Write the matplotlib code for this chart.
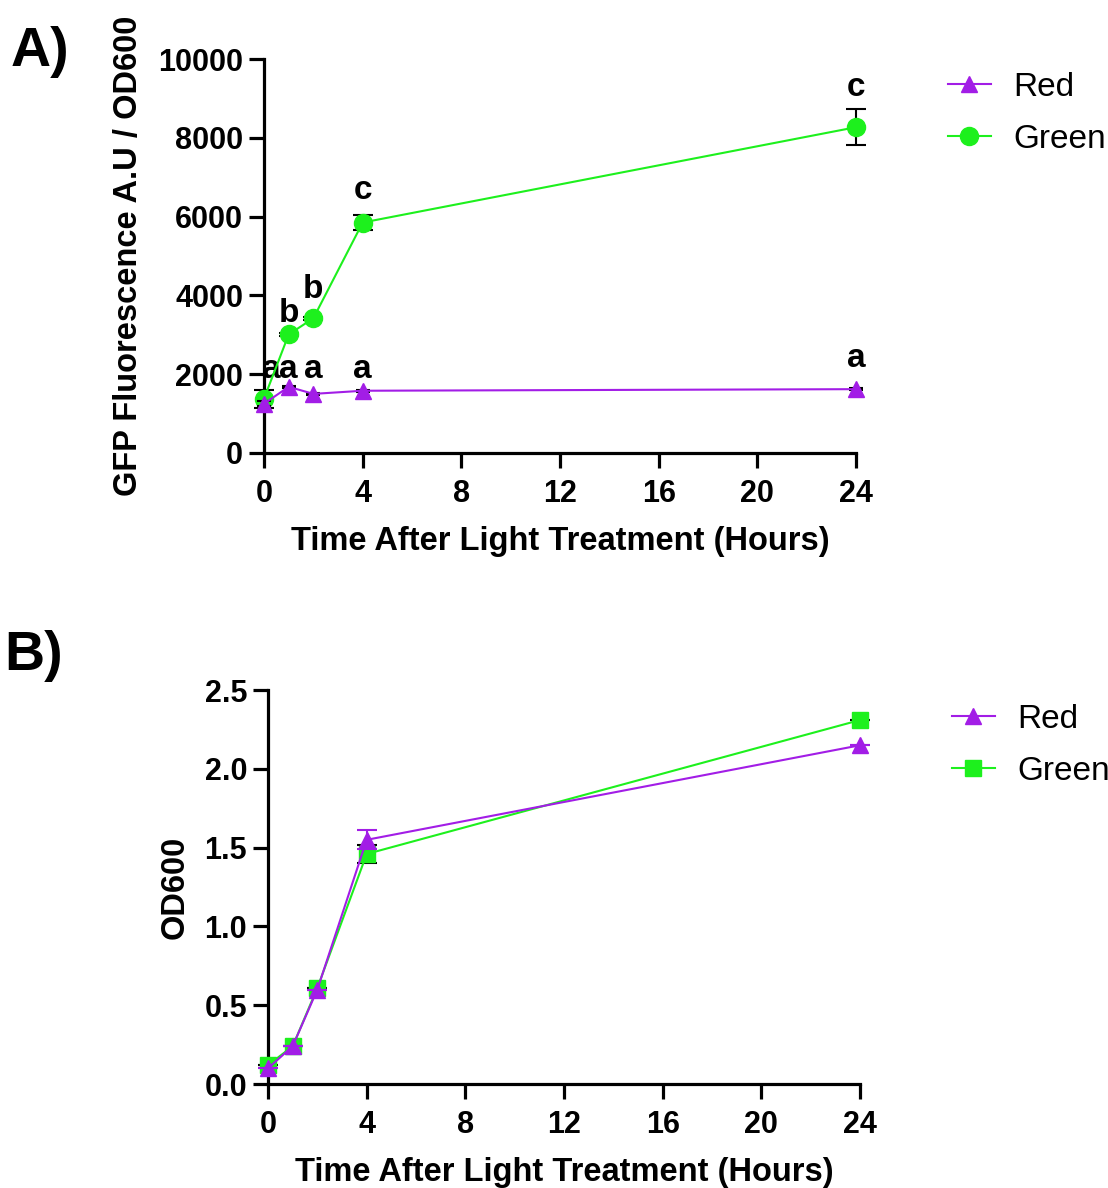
import matplotlib
matplotlib.use("Agg")
import matplotlib.pyplot as plt
from matplotlib.lines import Line2D

plt.rcParams['font.family'] = ['Liberation Sans', 'DejaVu Sans']

time = [0, 1, 2, 4, 24]
xticks = [0, 4, 8, 12, 16, 20, 24]

# Panel A: GFP fluorescence / OD600
gfp_red = [1250, 1680, 1500, 1580, 1620]
gfp_red_err = [60, 30, 30, 30, 30]
gfp_green = [1380, 3010, 3420, 5850, 8270]
gfp_green_err = [230, 40, 40, 200, 460]
letters_red = ['a', 'a', 'a', 'a', 'a']
letters_green = ['', 'b', 'b', 'c', 'c']

# Panel B: OD600
od_red = [0.10, 0.24, 0.60, 1.55, 2.15]
od_red_err = [0.0, 0.0, 0.0, 0.06, 0.0]
od_green = [0.12, 0.24, 0.61, 1.46, 2.31]
od_green_err = [0.0, 0.0, 0.0, 0.06, 0.0]

PURPLE = '#A21DE6'
GREEN = '#1DF01D'

fig = plt.figure(figsize=(11.08, 11.88), dpi=100)
axA = fig.add_axes([0.2383, 0.6187, 0.5343, 0.3316])
axB = fig.add_axes([0.2419, 0.0875, 0.5343, 0.3316])

def style(ax):
    for s in ['top', 'right']:
        ax.spines[s].set_visible(False)
    for s in ['left', 'bottom']:
        ax.spines[s].set_linewidth(2.3)
    ax.tick_params(width=2.3, length=11, labelsize=22)
    ax.tick_params(axis='x', pad=8)
    ax.tick_params(axis='y', pad=4)
    for lab in ax.get_xticklabels() + ax.get_yticklabels():
        lab.set_fontweight('bold')

def leg(ax, handles, labels, yc):
    ax.legend(handles, labels, loc='center left', bbox_to_anchor=(1.155, yc),
              frameon=False, fontsize=24, handlelength=1.3, handletextpad=0.67,
              labelspacing=0.63, borderpad=0, borderaxespad=0)

# Panel A
axA.errorbar(time, gfp_green, yerr=gfp_green_err, color=GREEN, marker='o', ms=13,
             lw=1.5, ecolor='black', elinewidth=1.5, capsize=7, capthick=1.5,
             clip_on=False, zorder=3)
axA.errorbar(time, gfp_red, yerr=gfp_red_err, color=PURPLE, marker='^', ms=12,
             lw=1.5, ecolor='black', elinewidth=1.5, capsize=5, capthick=1.5,
             clip_on=False, zorder=4)
axA.set_xlim(0, 24)
axA.set_ylim(0, 10000)
axA.set_xticks(xticks)
axA.set_yticks([0, 2000, 4000, 6000, 8000, 10000])
style(axA)
axA.set_xlabel('Time After Light Treatment (Hours)', fontsize=23.5, fontweight='bold', labelpad=12)
axA.set_ylabel('GFP Fluorescence A.U / OD600', fontsize=23.5, fontweight='bold', labelpad=10)

red_letter_y = [2110, 2110, 2110, 2110, 2410]
green_letter_y = [0, 3550, 4140, 6675, 9265]
red_letter_dx = [0.3, 0, 0, 0, 0]
for x, l, y, dx in zip(time, letters_red, red_letter_y, red_letter_dx):
    if l:
        axA.text(x + dx, y, l, ha='center', va='center', fontsize=24, fontweight='bold', clip_on=False)
for x, l, y in zip(time, letters_green, green_letter_y):
    if l:
        axA.text(x, y, l, ha='center', va='center', fontsize=24, fontweight='bold', clip_on=False)

hA = [Line2D([], [], color=PURPLE, marker='^', ms=12, lw=1.5),
      Line2D([], [], color=GREEN, marker='o', ms=13, lw=1.5)]
leg(axA, hA, ['Red', 'Green'], 0.862)

# Panel B
axB.errorbar(time, od_green, yerr=od_green_err, color=GREEN, marker='s', ms=12,
             lw=1.5, ecolor='black', elinewidth=1.5, capsize=7, capthick=1.5,
             clip_on=False, zorder=3)
axB.errorbar(time, od_red, yerr=od_red_err, color=PURPLE, marker='^', ms=12,
             lw=1.5, ecolor=PURPLE, elinewidth=1.5, capsize=7, capthick=1.5,
             clip_on=False, zorder=4)
axB.set_xlim(0, 24)
axB.set_ylim(0, 2.5)
axB.set_xticks(xticks)
axB.set_yticks([0.0, 0.5, 1.0, 1.5, 2.0, 2.5])
axB.set_yticklabels(['0.0', '0.5', '1.0', '1.5', '2.0', '2.5'])
style(axB)
axB.set_xlabel('Time After Light Treatment (Hours)', fontsize=23.5, fontweight='bold', labelpad=12)
axB.set_ylabel('OD600', fontsize=23.5, fontweight='bold', labelpad=10)
hB = [Line2D([], [], color=PURPLE, marker='^', ms=12, lw=1.5),
      Line2D([], [], color=GREEN, marker='s', ms=12, lw=1.5)]
leg(axB, hB, ['Red', 'Green'], 0.859)

fig.text(0.010, 0.956, 'A)', fontsize=40, fontweight='bold', va='center')
fig.text(0.004, 0.448, 'B)', fontsize=40, fontweight='bold', va='center')

fig.savefig('out.png', dpi=100)
